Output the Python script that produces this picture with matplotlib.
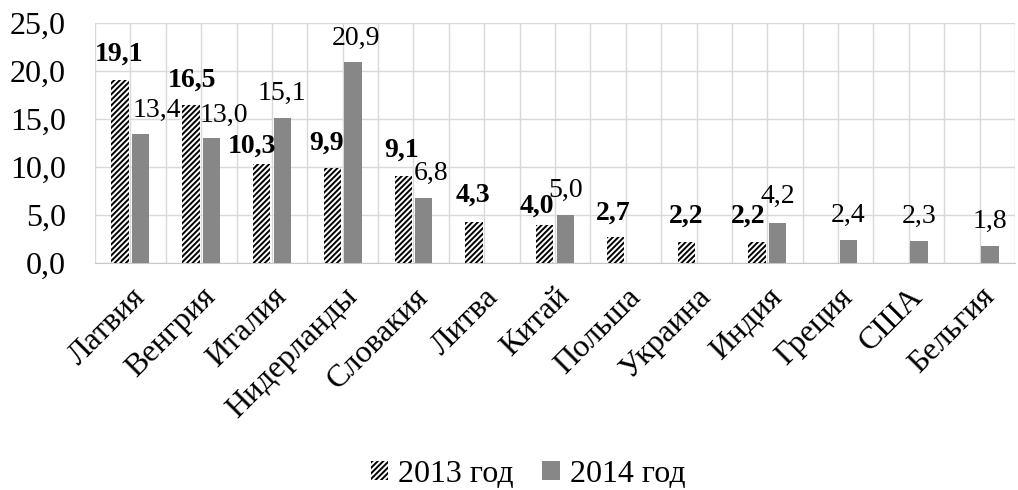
import numpy as np
import matplotlib
matplotlib.use("Agg")
import matplotlib.pyplot as plt
from matplotlib.transforms import ScaledTranslation

countries = ["Латвия", "Венгрия", "Италия", "Нидерланды", "Словакия", "Литва",
             "Китай", "Польша", "Украина", "Индия", "Греция", "США", "Бельгия"]
vals_2013 = [19.1, 16.5, 10.3, 9.9, 9.1, 4.3, 4.0, 2.7, 2.2, 2.2, np.nan, np.nan, np.nan]
vals_2014 = [13.4, 13.0, 15.1, 20.9, 6.8, np.nan, 5.0, np.nan, np.nan, 4.2, 2.4, 2.3, 1.8]
series_names = ["2013 год", "2014 год"]

# label nudges in pixels (dx, dy above bar top)
dx_2013 = [-1, 1, -10, -6, -2, -1, -8, -2, 0, -9, 0, 0, 0]
dy_2013 = [19, 18, 11, 18, 19, 20, 12, 17, 19, 19, 18, 18, 18]
dx_2014 = [16, 12, 0, 3, 7, 0, 0, 0, 0, 0, 0, 0, 0]
dy_2014 = [17, 16, 18, 17, 18, 18, 18, 18, 18, 20, 18, 18, 18]

plt.rcParams['font.family'] = ['Liberation Serif', 'DejaVu Serif']
plt.rcParams['hatch.linewidth'] = 1.4

fig = plt.figure(figsize=(10.18, 4.9), dpi=100)
ax = fig.add_axes([95 / 1018, 1 - 263 / 490, 920 / 1018, 240 / 490])

x = np.arange(len(countries))
w = 0.245
b1 = ax.bar(x - 0.145, vals_2013, w, color='white', edgecolor='black',
            linewidth=0, hatch='//////', label=series_names[0], zorder=3)
b2 = ax.bar(x + 0.145, vals_2014, w, color='#878787', linewidth=0,
            label=series_names[1], zorder=3)

px = 72 / 100  # pixels -> points
for i, v in enumerate(vals_2013):
    if np.isnan(v):
        continue
    ax.annotate(f"{v:.1f}".replace('.', ','), (x[i] - 0.145, v),
                xytext=(dx_2013[i] * px, dy_2013[i] * px), textcoords='offset points',
                ha='center', va='baseline', fontsize=20, fontweight='bold', zorder=4)
for i, v in enumerate(vals_2014):
    if np.isnan(v):
        continue
    ax.annotate(f"{v:.1f}".replace('.', ','), (x[i] + 0.145, v),
                xytext=(dx_2014[i] * px, dy_2014[i] * px), textcoords='offset points',
                ha='center', va='baseline', fontsize=20, zorder=4)

ax.set_xlim(-0.5, len(countries) - 0.5)
ax.set_ylim(0, 25)
yt = np.arange(0, 26, 5)
ax.set_yticks(yt)
ax.set_yticklabels([f"{t:.1f}".replace('.', ',') for t in yt], fontsize=23)
ax.set_xticks(x)
ax.set_xticklabels(countries, fontsize=23, rotation=45, ha='right',
                   rotation_mode='anchor')
shift = ScaledTranslation(-6 / 100, 2 / 100, fig.dpi_scale_trans)
for lab in ax.get_xticklabels():
    lab.set_transform(lab.get_transform() + shift)
ax.set_xticks(np.arange(-0.5, len(countries), 1.0), minor=True)
ax.tick_params(axis='both', which='both', length=0)
ax.tick_params(axis='y', pad=21)
ax.tick_params(axis='x', pad=14)

ax.grid(axis='y', color='#d9d9d9', linewidth=1.0, zorder=0)
ax.grid(axis='x', which='both', color='#d9d9d9', linewidth=1.0, zorder=0)
for s in ['top', 'right', 'left']:
    ax.spines[s].set_visible(False)
ax.spines['bottom'].set_color('#c8c8c8')
ax.spines['bottom'].set_zorder(2)

fig.legend(handles=[b1, b2], labels=series_names, loc='center',
           bbox_to_anchor=(528 / 1018, 1 - 474 / 490), ncol=2, frameon=False,
           fontsize=23, handlelength=0.55, handleheight=0.55, handletextpad=0.3,
           columnspacing=0.9, borderpad=0)

fig.savefig("out.png", dpi=100)
